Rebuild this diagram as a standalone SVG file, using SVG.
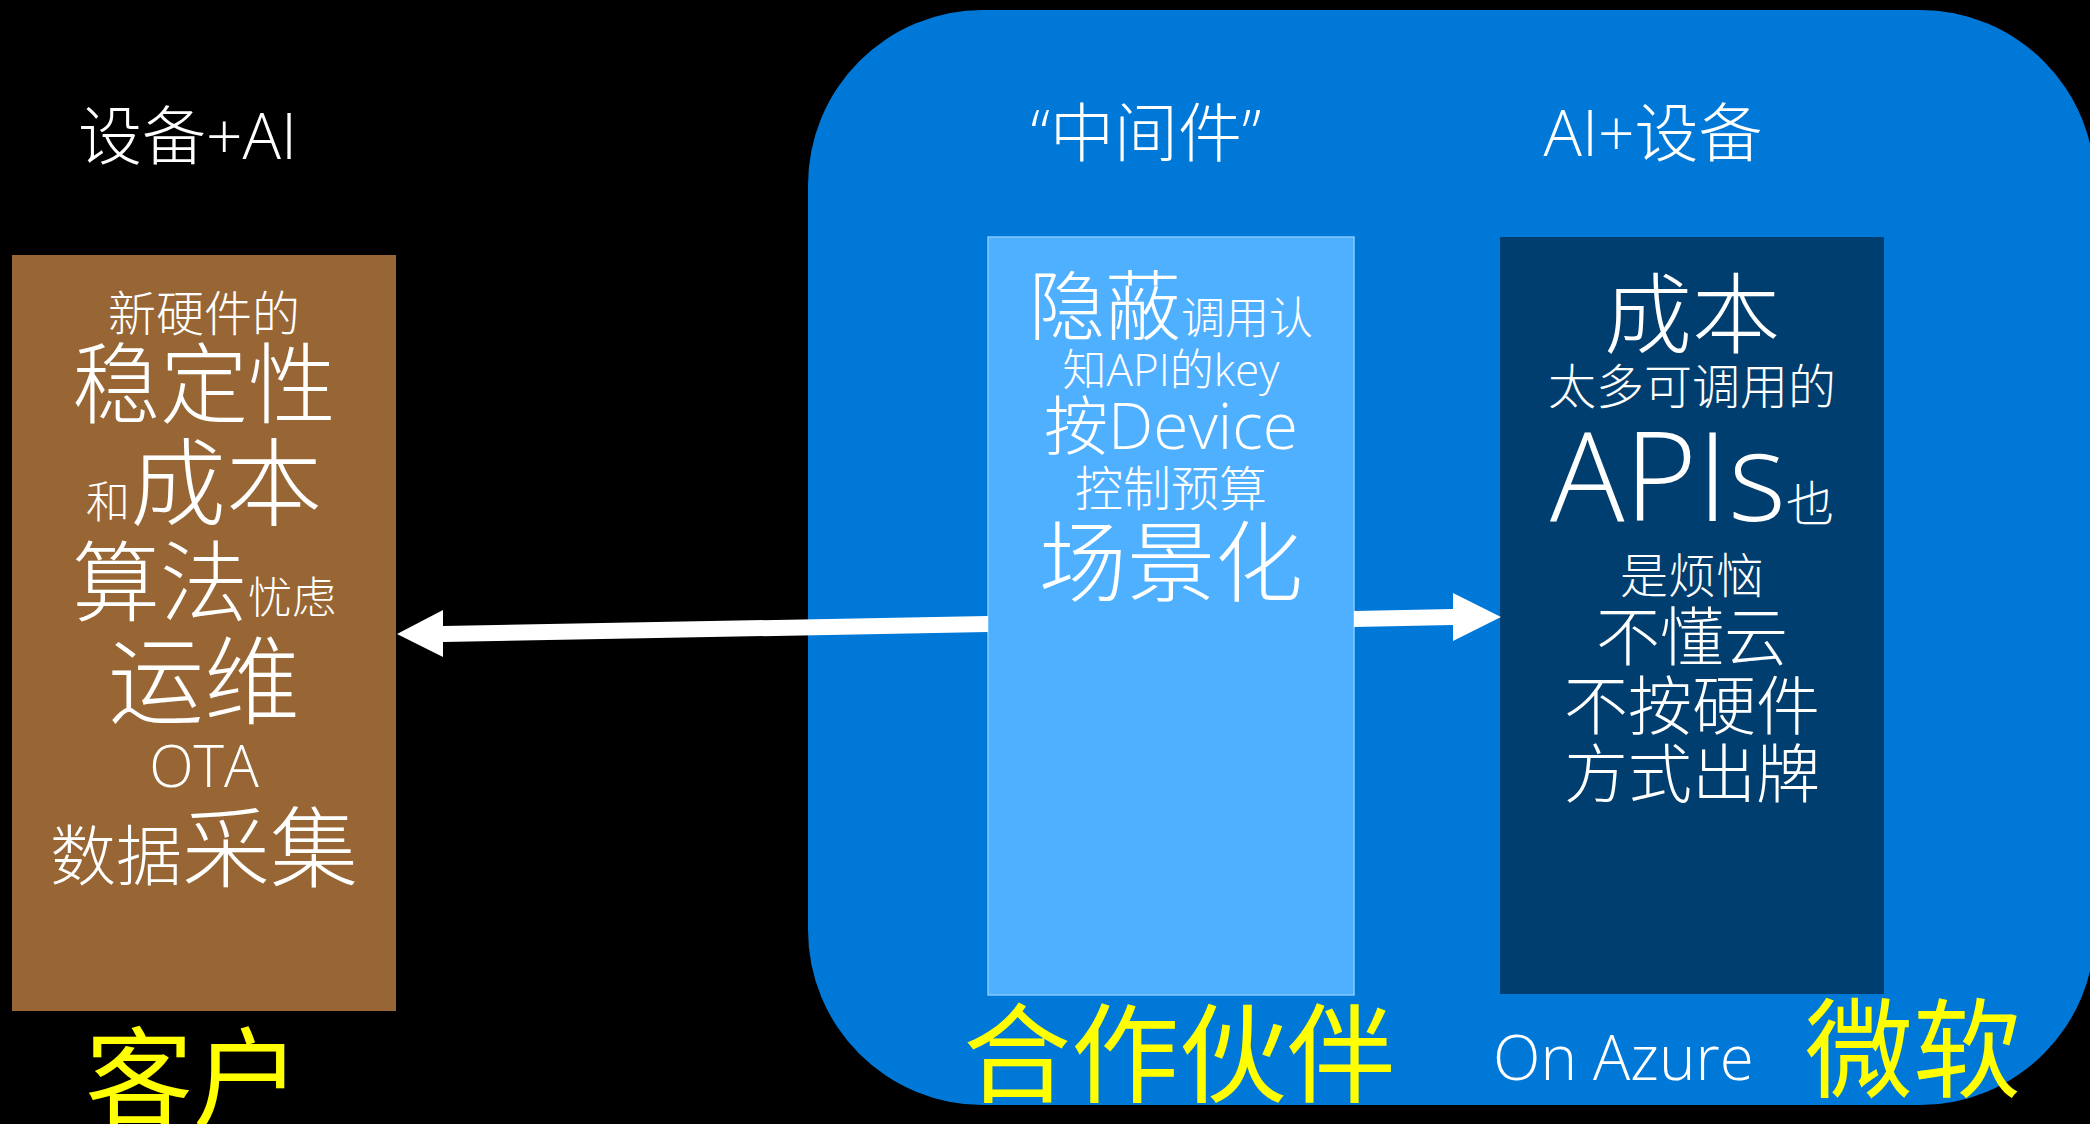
<svg xmlns="http://www.w3.org/2000/svg" width="2090" height="1124" viewBox="0 0 2090 1124">
<defs>
<style>
text{font-family:"Open Sans","Noto Sans CJK SC",sans-serif;font-weight:300;fill:#fff}
.c{text-anchor:middle}
.y{fill:#ffff00;font-weight:400}
.arrow{fill:#fff}
</style>
<clipPath id="clipBottom"><rect x="0" y="0" width="2090" height="1105"/></clipPath>
</defs>
<rect x="0" y="0" width="2090" height="1124" fill="#000"/>

<g id="microsoft-region">
<rect x="808" y="10" width="1287" height="1095" rx="175" ry="175" fill="#0078d7"/>
</g>

<g id="customer-box">
<rect x="12" y="255" width="384" height="756" fill="#976634"/>
<text class="c" x="204" y="331" font-size="48">新硬件的</text>
<text class="c" x="204" y="416" font-size="88">稳定性</text>
<text class="c" x="204" y="518"><tspan font-size="44">和</tspan><tspan font-size="96">成本</tspan></text>
<text class="c" x="204" y="614"><tspan font-size="88">算法</tspan><tspan font-size="44">忧虑</tspan></text>
<text class="c" x="204" y="716" font-size="96">运维</text>
<text class="c" x="204" y="787" font-size="58">OTA</text>
<text class="c" x="204" y="880"><tspan font-size="66">数据</tspan><tspan font-size="88">采集</tspan></text>
</g>

<g id="middleware-box">
<rect x="988" y="237" width="366" height="758" fill="#4fb0ff" stroke="#86c8ff" stroke-width="1.5"/>
<text class="c" x="1171" y="334"><tspan font-size="76">隐蔽</tspan><tspan font-size="44">调用认</tspan></text>
<text class="c" x="1171" y="386" font-size="44">知API的key</text>
<text class="c" x="1171" y="449" font-size="64">按Device</text>
<text class="c" x="1171" y="506" font-size="48">控制预算</text>
<text class="c" x="1171" y="594" font-size="88">场景化</text>
</g>

<g id="ai-device-box">
<rect x="1500" y="237" width="384" height="757" fill="#003e6f"/>
<text class="c" x="1692" y="346" font-size="88">成本</text>
<text class="c" x="1692" y="404" font-size="48">太多可调用的</text>
<text class="c" x="1692" y="521"><tspan font-size="124">APIs</tspan><tspan font-size="48">也</tspan></text>
<text class="c" x="1692" y="593" font-size="48">是烦恼</text>
<text class="c" x="1692" y="660" font-size="64">不懂云</text>
<text class="c" x="1692" y="729" font-size="64">不按硬件</text>
<text class="c" x="1692" y="797" font-size="64">方式出牌</text>
</g>

<g id="headings">
<text x="78" y="159" font-size="64">设备+AI</text>
<text class="c" x="1146" y="156" font-size="64">“中间件”</text>
<text class="c" x="1653" y="156" font-size="64">AI+设备</text>
</g>

<g id="labels">
<text class="y" x="85" y="1118" font-size="108">客户</text>
<g clip-path="url(#clipBottom)">
<text class="y" x="963" y="1094" font-size="108">合作伙伴</text>
<text class="y" x="1805" y="1089" font-size="108">微软</text>
</g>
<text x="1493" y="1080" font-size="62">On Azure</text>
</g>

<g id="connectors">
<polygon class="arrow" points="397,634 443,610 443,626 988,616 988,632 443,642 443,657"/>
<polygon class="arrow" points="1354,611 1453,609 1453,593 1501,617 1453,641 1453,625 1354,627"/>
</g>
</svg>
